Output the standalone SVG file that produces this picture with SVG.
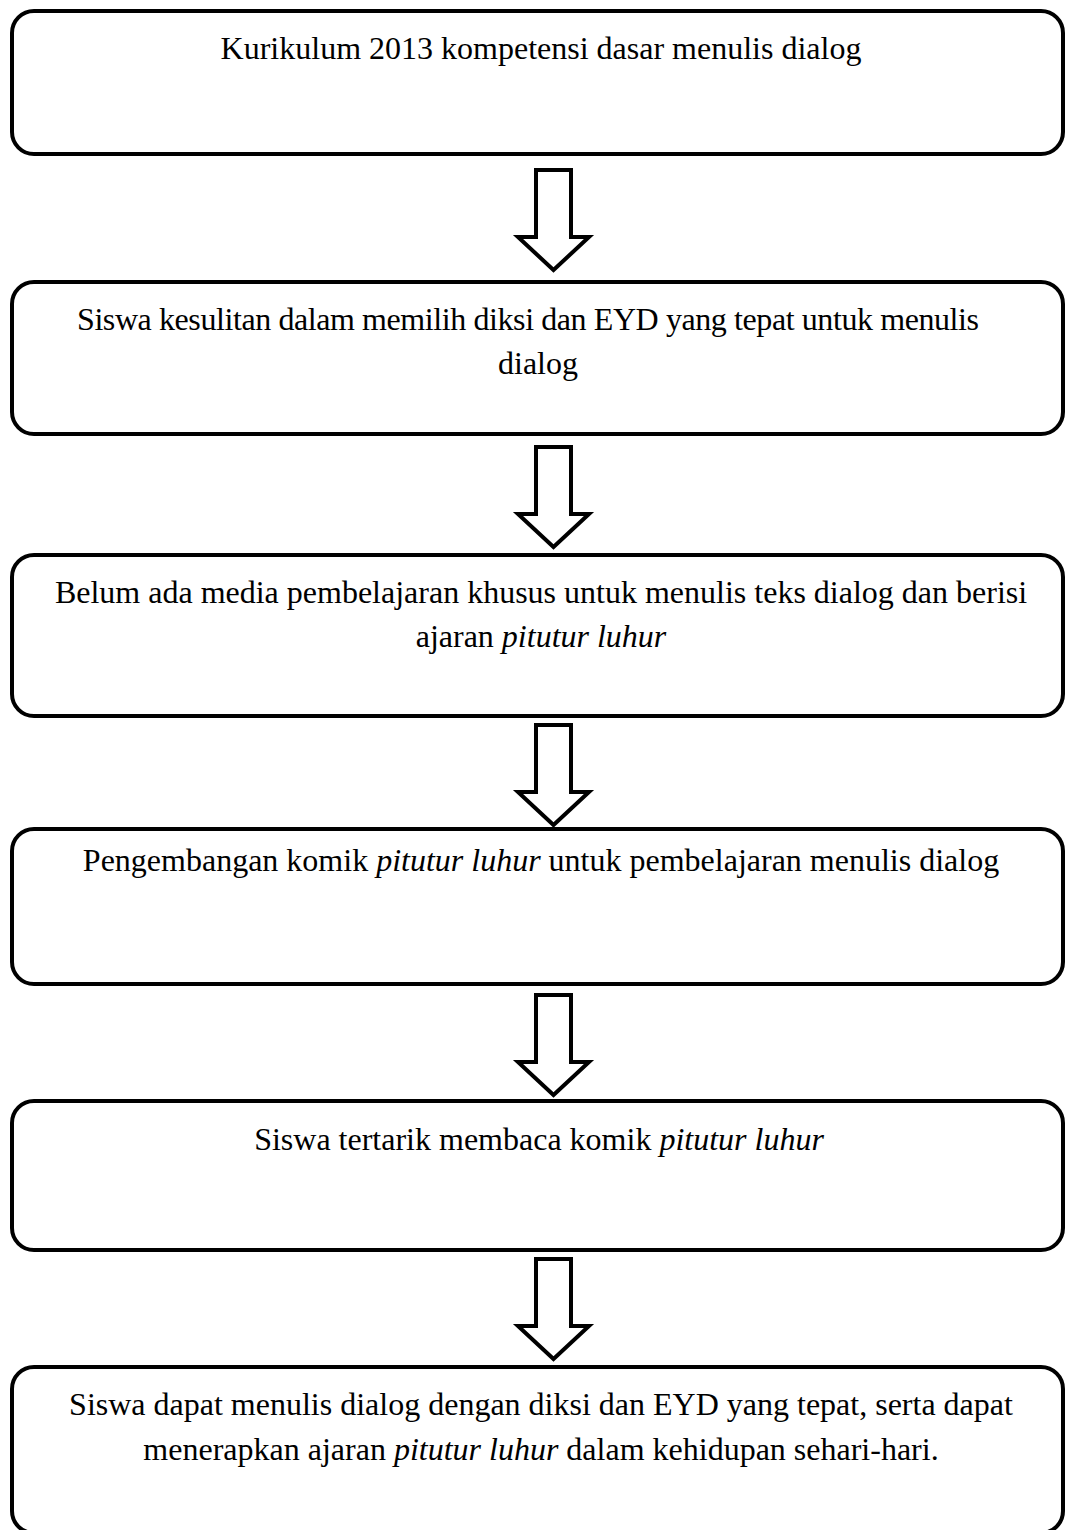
<svg xmlns="http://www.w3.org/2000/svg" xmlns:xlink="http://www.w3.org/1999/xlink" width="1065" height="1530" viewBox="0 0 1065 1530">
<style>
.box{fill:#fff;stroke:#000;stroke-width:4}
.arrow{fill:#fff;stroke:#000;stroke-width:4;stroke-linejoin:miter}
.t{font-family:"Liberation Serif","Times New Roman",serif;font-size:32px;fill:#000;text-anchor:middle}
.i{font-style:italic}
</style>
<defs>
<path id="arr" class="arrow" d="M536,0 H571 V67 H589 L553.5,100 L518,67 H536 Z"/>
</defs>
<rect width="1065" height="1530" fill="#fff"/>
<g id="connectors">
<use xlink:href="#arr" href="#arr" transform="translate(0,170)"/>
<use xlink:href="#arr" href="#arr" transform="translate(0,447)"/>
<use xlink:href="#arr" href="#arr" transform="translate(0,725)"/>
<use xlink:href="#arr" href="#arr" transform="translate(0,995)"/>
<use xlink:href="#arr" href="#arr" transform="translate(0,1259)"/>
</g>
<g id="node1">
<rect class="box" x="12" y="11" width="1051" height="143" rx="22"/>
<text class="t" x="541" y="59">Kurikulum 2013 kompetensi dasar menulis dialog</text>
</g>
<g id="node2">
<rect class="box" x="12" y="282" width="1051" height="152" rx="22"/>
<text class="t" x="528" y="330" textLength="902" lengthAdjust="spacing">Siswa kesulitan dalam memilih diksi dan EYD yang tepat untuk menulis</text>
<text class="t" x="538" y="374">dialog</text>
</g>
<g id="node3">
<rect class="box" x="12" y="555" width="1051" height="161" rx="22"/>
<text class="t" x="541" y="603">Belum ada media pembelajaran khusus untuk menulis teks dialog dan berisi</text>
<text class="t" x="541" y="647">ajaran <tspan class="i">pitutur luhur</tspan></text>
</g>
<g id="node4">
<rect class="box" x="12" y="829" width="1051" height="155" rx="22"/>
<text class="t" x="541" y="871">Pengembangan komik <tspan class="i">pitutur luhur</tspan> untuk pembelajaran menulis dialog</text>
</g>
<g id="node5">
<rect class="box" x="12" y="1101" width="1051" height="149" rx="22"/>
<text class="t" x="539" y="1150">Siswa tertarik membaca komik <tspan class="i">pitutur luhur</tspan></text>
</g>
<g id="node6">
<rect class="box" x="12" y="1367" width="1051" height="166" rx="22"/>
<text class="t" x="541" y="1415">Siswa dapat menulis dialog dengan diksi dan EYD yang tepat, serta dapat</text>
<text class="t" x="541" y="1460">menerapkan ajaran <tspan class="i">pitutur luhur</tspan> dalam kehidupan sehari-hari.</text>
</g>
</svg>
